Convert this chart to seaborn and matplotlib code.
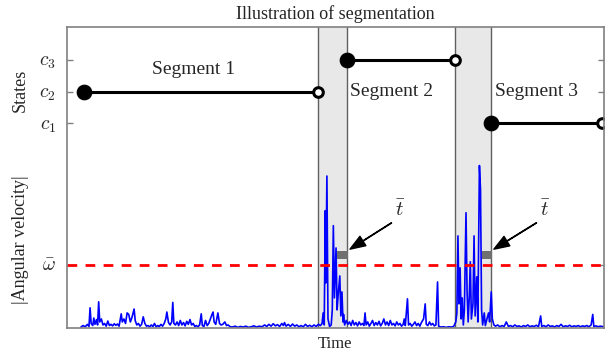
import matplotlib
matplotlib.use("Agg")
import matplotlib.pyplot as plt
import seaborn as sns
import pandas as pd

# state levels and threshold (y units of the shared axis)
state_ticks = [6.8, 7.85, 8.9]
state_labels = [r"$c_1$", r"$c_2$", r"$c_3$"]
omega_bar = 2.1

# segments: start, end, level
seg_start = [3.2, 52.2, 79.0]
seg_end = [46.8, 72.3, 99.6]
seg_level = [7.85, 8.9, 6.8]
seg_names = ["Segment 1", "Segment 2", "Segment 3"]
seg_label_x = [23.5, 60.5, 87.5]
seg_label_y = [8.6, 7.85, 7.85]

# transition bands and t-bar markers
band_start = [46.8, 72.3]
band_end = [52.2, 79.0]
tbar_start = [50.3, 77.3]
tbar_end = [52.3, 79.1]

# |angular velocity| trace
t_seg1 = [2.6, 3.0, 3.4, 3.8, 4.1, 4.3, 4.5, 4.8, 5.0, 5.2, 5.5, 5.7, 5.9, 6.1, 6.4, 6.7,
          7.0, 7.3, 7.6, 7.9, 8.2, 8.5, 8.8, 9.1, 9.4, 9.7, 10.1, 10.3, 10.6, 10.9, 11.2,
          11.5, 11.8, 12.1, 12.5, 12.7, 13.0, 13.3, 13.6, 13.9, 14.2, 14.5, 14.8, 15.1,
          15.4, 15.7, 16.0, 16.3, 16.6, 16.9, 17.2, 17.5, 17.8, 18.1, 18.4, 18.6, 18.9,
          19.2, 19.5, 19.7, 19.9, 20.2, 20.5, 20.8, 21.1, 21.4, 21.7, 22.0, 22.3, 22.6,
          22.9, 23.2, 23.5, 23.8, 24.1, 24.4, 24.7, 25.0, 25.2, 25.5, 25.8, 26.1, 26.4,
          26.7, 27.0, 27.2, 27.4, 27.7, 28.0, 28.1, 28.4, 28.7, 29.0, 29.4, 29.7, 30.0,
          30.4, 30.8, 31.3, 31.8, 32.3, 32.8, 33.3, 33.8, 34.3, 34.8, 35.3, 35.8, 36.3,
          36.8, 37.2, 37.6, 38.0, 38.4, 38.8, 39.2, 39.6, 40.0, 40.3, 40.5, 40.8, 41.2,
          41.6, 42.0, 42.4, 42.8, 43.2, 43.6, 44.0, 44.4, 44.8, 45.2, 45.6, 46.0, 46.4,
          46.8, 47.2]
w_seg1 = [0.03, 0.08, 0.04, 0.12, 0.05, 0.67, 0.15, 0.08, 0.33, 0.12, 0.28, 0.10, 0.87,
          0.20, 0.30, 0.10, 0.15, 0.06, 0.23, 0.08, 0.12, 0.07, 0.14, 0.09, 0.13, 0.06,
          0.47, 0.20, 0.30, 0.15, 0.50, 0.45, 0.20, 0.35, 0.63, 0.25, 0.10, 0.15, 0.06,
          0.12, 0.37, 0.15, 0.06, 0.08, 0.04, 0.10, 0.05, 0.15, 0.04, 0.08, 0.05, 0.12,
          0.06, 0.15, 0.30, 0.53, 0.18, 0.10, 0.20, 0.85, 0.15, 0.10, 0.20, 0.08, 0.25,
          0.10, 0.18, 0.07, 0.22, 0.12, 0.28, 0.10, 0.15, 0.05, 0.08, 0.04, 0.10, 0.47,
          0.08, 0.05, 0.25, 0.08, 0.15, 0.30, 0.45, 0.53, 0.20, 0.12, 0.40, 0.50, 0.15,
          0.10, 0.12, 0.20, 0.08, 0.10, 0.04, 0.03, 0.06, 0.02, 0.05, 0.03, 0.06, 0.02,
          0.04, 0.07, 0.03, 0.06, 0.04, 0.10, 0.05, 0.12, 0.06, 0.14, 0.07, 0.11, 0.05,
          0.15, 0.08, 0.18, 0.06, 0.12, 0.05, 0.13, 0.06, 0.10, 0.04, 0.08, 0.04, 0.12,
          0.05, 0.09, 0.04, 0.10, 0.05, 0.12, 0.08]

t_band1 = [47.5, 47.7, 47.9, 48.1, 48.2, 48.4, 48.6, 48.9, 49.2, 49.4, 49.6, 49.8, 50.1,
           50.3, 50.5, 50.8, 51.0, 51.2, 51.4, 51.5, 51.7, 52.0, 52.3]
w_band1 = [0.15, 0.50, 0.10, 3.90, 1.50, 5.05, 0.30, 0.05, 0.10, 0.60, 3.40, 1.00, 2.66,
           0.60, 1.10, 1.73, 0.40, 1.20, 0.20, 0.45, 0.10, 0.25, 0.12]

t_seg2 = [52.6, 52.9, 53.2, 53.5, 53.8, 54.1, 54.4, 54.7, 55.0, 55.3, 55.5, 55.7, 56.0,
          56.3, 56.6, 56.9, 57.2, 57.5, 57.8, 58.1, 58.4, 58.7, 59.0, 59.3, 59.6, 59.9,
          60.2, 60.5, 60.8, 61.1, 61.4, 61.7, 62.0, 62.3, 62.6, 62.8, 63.0, 63.4, 63.6,
          63.9, 64.2, 64.5, 64.8, 65.1, 65.4, 65.7, 66.0, 66.4, 66.7, 66.9, 67.2, 67.5,
          67.8, 68.1, 68.4, 68.7, 69.0, 69.2, 69.6, 70.1, 70.6, 71.1, 71.6, 72.0]
w_seg2 = [0.20, 0.08, 0.25, 0.10, 0.18, 0.07, 0.20, 0.10, 0.15, 0.08, 0.50, 0.10, 0.20,
          0.06, 0.15, 0.25, 0.08, 0.18, 0.10, 0.22, 0.07, 0.15, 0.30, 0.10, 0.20, 0.08,
          0.25, 0.10, 0.15, 0.07, 0.20, 0.10, 0.15, 0.06, 0.12, 0.30, 0.08, 0.97, 0.10,
          0.15, 0.06, 0.12, 0.20, 0.08, 0.15, 0.06, 0.18, 0.30, 0.80, 0.12, 0.08, 0.20,
          0.10, 0.15, 0.07, 0.10, 1.53, 0.06, 0.03, 0.04, 0.02, 0.04, 0.03, 0.05]

t_band2 = [72.4, 72.6, 72.8, 73.0, 73.2, 73.4, 73.6, 73.8, 74.0, 74.3, 74.5, 74.7, 74.9,
           75.1, 75.3, 75.6, 75.8, 76.0, 76.3, 76.5, 76.8, 77.0, 77.2, 77.4, 77.7, 77.9,
           78.2, 78.5, 78.7, 79.0, 79.2, 79.5]
w_band2 = [0.20, 0.50, 3.06, 0.80, 2.00, 0.30, 1.00, 0.10, 0.60, 3.83, 1.20, 0.20, 1.00,
           2.20, 0.30, 0.80, 3.06, 0.40, 1.70, 0.20, 5.40, 4.60, 0.60, 0.10, 0.50, 0.08,
           0.30, 0.50, 0.20, 1.20, 0.30, 0.10]

t_seg3 = [79.8, 80.2, 80.6, 81.0, 81.4, 81.8, 82.2, 82.6, 83.0, 83.4, 83.8, 84.2, 84.6,
          85.0, 85.4, 85.8, 86.2, 86.6, 87.0, 87.4, 87.8, 88.2, 88.4, 88.8, 89.2, 89.6,
          90.0, 90.4, 90.8, 91.2, 91.6, 92.0, 92.4, 92.8, 93.2, 93.6, 94.0, 94.4, 94.8,
          95.2, 95.6, 96.0, 96.4, 96.8, 97.2, 97.6, 97.9, 98.1, 98.5, 98.9, 99.3, 99.7,
          100.0]
w_seg3 = [0.06, 0.10, 0.04, 0.08, 0.05, 0.20, 0.05, 0.08, 0.04, 0.10, 0.05, 0.07, 0.03,
          0.08, 0.05, 0.10, 0.04, 0.07, 0.05, 0.09, 0.04, 0.40, 0.05, 0.08, 0.04, 0.10,
          0.05, 0.07, 0.03, 0.08, 0.05, 0.12, 0.04, 0.07, 0.05, 0.09, 0.04, 0.07, 0.05,
          0.08, 0.04, 0.07, 0.05, 0.08, 0.04, 0.10, 0.45, 0.05, 0.07, 0.04, 0.06, 0.05,
          0.04]

signal = pd.DataFrame({
    "t": t_seg1 + t_band1 + t_seg2 + t_band2 + t_seg3,
    "w": w_seg1 + w_band1 + w_seg2 + w_band2 + w_seg3,
})

sns.set_style("white")
plt.rcParams["font.family"] = ["Liberation Serif", "DejaVu Serif"]
plt.rcParams["mathtext.fontset"] = "cm"

fig = plt.figure(figsize=(6.1, 3.62), dpi=100)
ax = fig.add_axes([0.1098, 0.094, 0.8804, 0.831])

# shaded transition bands
for a, b in zip(band_start, band_end):
    ax.axvspan(a, b, color="#e8e8e8", zorder=0, lw=0)
    ax.axvline(a, color="#606060", lw=1.0, zorder=1)
    ax.axvline(b, color="#606060", lw=1.0, zorder=1)

sns.lineplot(data=signal, x="t", y="w", ax=ax, color="blue", lw=1.2,
             estimator=None, sort=False, zorder=2)

ax.axhline(omega_bar, color="red", lw=2, dashes=(3.5, 3.0), zorder=3)

for a, b in zip(tbar_start, tbar_end):
    ax.fill_between([a, b], 2.29, 2.56, color="#707070", lw=0, zorder=4)

# state segments
ax.hlines(seg_level, seg_start, seg_end, color="black", lw=2.2, zorder=5)
sns.scatterplot(x=seg_start, y=seg_level, ax=ax, color="black", s=110,
                edgecolor="black", zorder=6)
sns.scatterplot(x=seg_end, y=seg_level, ax=ax, color="white", s=48,
                edgecolor="black", linewidth=2.2, zorder=6)

for name, x, y in zip(seg_names, seg_label_x, seg_label_y):
    ax.text(x, y, name, ha="center", va="center", fontsize=14)

# t-bar annotations
ax.annotate(r"$\bar{t}$", xy=(52.7, 2.62), xytext=(62.0, 3.9), fontsize=15,
            ha="center", va="center",
            arrowprops=dict(facecolor="black", edgecolor="black", width=0.3,
                            headwidth=8, headlength=11, shrink=0.0))
ax.annotate(r"$\bar{t}$", xy=(79.5, 2.62), xytext=(89.0, 3.9), fontsize=15,
            ha="center", va="center",
            arrowprops=dict(facecolor="black", edgecolor="black", width=0.3,
                            headwidth=8, headlength=11, shrink=0.0))

ax.set_xlim(0, 100)
ax.set_ylim(0, 10)
ax.set_xticks([])
ax.set_yticks([omega_bar] + state_ticks)
ax.set_yticklabels([r"$\bar{\omega}$"] + state_labels, fontsize=14)
ax.tick_params(axis="y", direction="in", length=4, width=1, color="#808080",
               right=True, left=True, pad=8)
for sp in ax.spines.values():
    sp.set_color("#808080")
    sp.set_linewidth(1.2)
    sp.set_zorder(7)

ax.set_xlabel("Time", fontsize=12, labelpad=6)
ax.set_ylabel("")
ax.set_title("Illustration of segmentation", fontsize=13, pad=6)
fig.text(0.033, 1 - 90 / 362, "States", rotation=90, ha="center", va="center",
         fontsize=13)
fig.text(0.033, 1 - 240 / 362, "|Angular velocity|", rotation=90, ha="center",
         va="center", fontsize=13)

fig.savefig("out.png", dpi=100)
